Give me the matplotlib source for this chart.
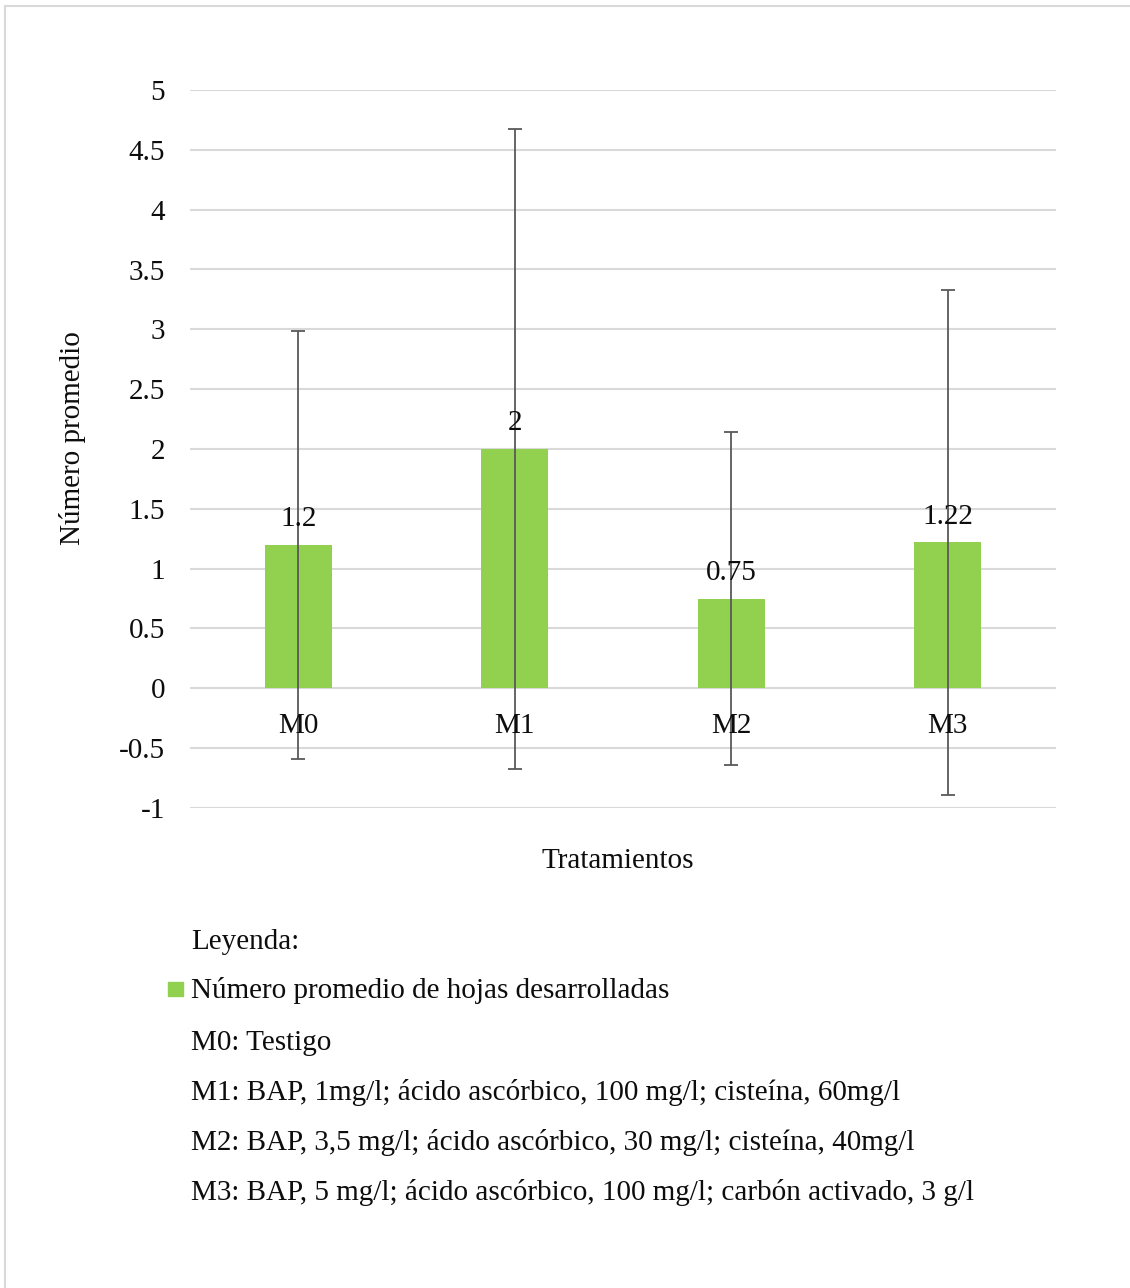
import numpy as np
import matplotlib.pyplot as plt
from matplotlib.lines import Line2D
from matplotlib.patches import Rectangle

# Data
categorias = ["M0", "M1", "M2", "M3"]
promedios = [1.2, 2.0, 0.75, 1.22]
etiquetas = ["1.2", "2", "0.75", "1.22"]
errores = [1.79, 2.67, 1.39, 2.11]
y_ticks = [-1, -0.5, 0, 0.5, 1, 1.5, 2, 2.5, 3, 3.5, 4, 4.5, 5]
y_tick_labels = ["-1", "-0.5", "0", "0.5", "1", "1.5", "2", "2.5", "3", "3.5", "4", "4.5", "5"]
leyenda = [
    "M0: Testigo",
    "M1: BAP, 1mg/l; ácido ascórbico, 100 mg/l; cisteína, 60mg/l",
    "M2: BAP, 3,5 mg/l; ácido ascórbico, 30 mg/l; cisteína, 40mg/l",
    "M3: BAP, 5 mg/l; ácido ascórbico, 100 mg/l; carbón activado, 3 g/l",
]
serie = "Número promedio de hojas desarrolladas"

plt.rcParams['font.family'] = ['Liberation Serif', 'DejaVu Serif']

W, H = 1130, 1288
FS = 21
TXT = "#0d0d0d"
fig = plt.figure(figsize=(W / 100, H / 100), dpi=100)

# axes placed in pixel coords: x 190..1056, y 90..808
ax = fig.add_axes([190 / W, 1 - 808 / H, (1056 - 190) / W, (808 - 90) / H])

x = np.arange(len(categorias))
ax.bar(x, promedios, width=0.31, color="#92D050", zorder=2)
ax.errorbar(x, promedios, yerr=errores, fmt="none", ecolor="#595959",
            elinewidth=1.3, capsize=5, capthick=1.3, zorder=3)

for xi, v, lab in zip(x, promedios, etiquetas):
    ax.annotate(lab, (xi, v), xytext=(0, 18.5), textcoords="offset points",
                ha="center", va="center", fontsize=FS, color=TXT, zorder=4)

for xi, c in zip(x, categorias):
    ax.annotate(c, (xi, 0), xytext=(0, -27), textcoords="offset points",
                ha="center", va="center", fontsize=FS, color=TXT, zorder=4)

ax.set_xlim(-0.5, len(categorias) - 0.5)
ax.set_ylim(-1, 5)
ax.set_yticks(y_ticks)
ax.set_yticklabels(y_tick_labels, fontsize=FS, color=TXT)
ax.set_xticks([])
ax.tick_params(axis="y", length=0, pad=18)
ax.grid(axis="y", color="#D9D9D9", linewidth=1.5, zorder=0)
for s in ax.spines.values():
    s.set_visible(False)

fig.text(72 / W, 1 - 438 / H, "Número promedio", rotation=90, ha="center",
         va="center", fontsize=FS, color=TXT)
fig.text(618 / W, 1 - 861 / H, "Tratamientos", ha="center", va="center",
         fontsize=FS, color=TXT)

# legend block
fig.text(191 / W, 1 - 942 / H, "Leyenda:", ha="left", va="center",
         fontsize=FS, color=TXT)
fig.patches.append(Rectangle((168 / W, 1 - 996 / H), 15 / W, 14 / H,
                             transform=fig.transFigure, color="#92D050"))
fig.text(191 / W, 1 - 991 / H, serie, ha="left", va="center",
         fontsize=FS, color=TXT)
for i, linea in enumerate(leyenda):
    yy = 1043 + 50 * i
    fig.text(191 / W, 1 - yy / H, linea, ha="left", va="center",
             fontsize=FS, color=TXT)

# outer frame (top and left edges visible)
fig.add_artist(Line2D([5 / W, 1], [1 - 6 / H, 1 - 6 / H], transform=fig.transFigure,
                      color="#D9D9D9", linewidth=1.5))
fig.add_artist(Line2D([5 / W, 5 / W], [0, 1 - 6 / H], transform=fig.transFigure,
                      color="#D9D9D9", linewidth=1.5))

fig.savefig("out.png", dpi=100, facecolor="white")
